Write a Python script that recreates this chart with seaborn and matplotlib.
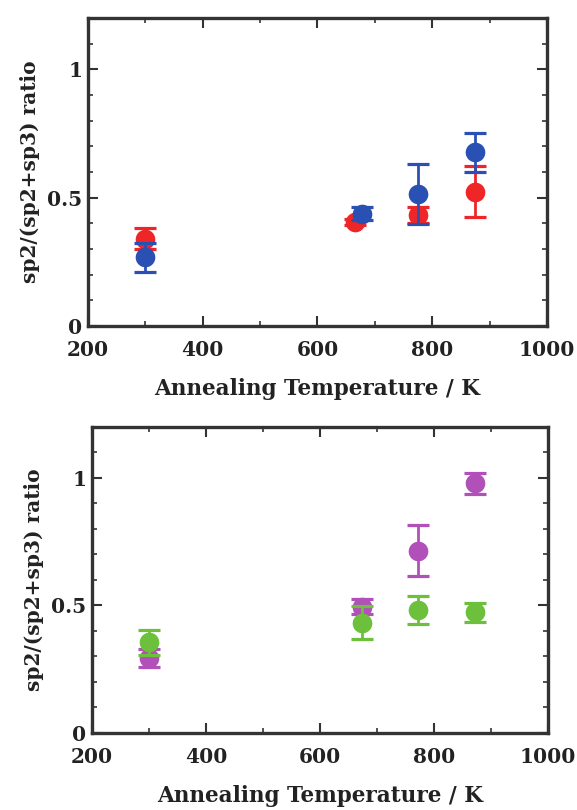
import matplotlib
matplotlib.use("Agg")
import matplotlib.pyplot as plt
import seaborn as sns
from matplotlib.ticker import MultipleLocator, FixedLocator, FixedFormatter

sns.set_theme(style="ticks")
plt.rcParams['font.family'] = ['DejaVu Serif']
plt.rcParams['font.weight'] = 'bold'

# Upper panel: two sample series
temp_red = [300, 665, 775, 875]
ratio_red = [0.34, 0.406, 0.432, 0.523]
err_red = [0.04, 0.012, 0.03, 0.10]

temp_blue = [300, 678, 775, 875]
ratio_blue = [0.267, 0.438, 0.516, 0.676]
err_blue = [0.058, 0.025, 0.117, 0.077]

# Lower panel: two sample series
temp_purple = [300, 674, 773, 873]
ratio_purple = [0.295, 0.495, 0.714, 0.979]
err_purple = [0.035, 0.03, 0.10, 0.04]

temp_green = [300, 674, 773, 873]
ratio_green = [0.355, 0.432, 0.482, 0.473]
err_green = [0.05, 0.065, 0.056, 0.037]

y_ticks = [0, 0.5, 1]
y_tick_labels = ["0", "0.5", "1"]
x_label = "Annealing Temperature / K"
y_label = "sp2/(sp2+sp3) ratio"

C_RED = "#ee2628"
C_BLUE = "#2a50b4"
C_PURPLE = "#b050b8"
C_GREEN = "#6cc03c"
FRAME = "#333333"

fig = plt.figure(figsize=(5.77, 8.10), dpi=100)
ax1 = fig.add_axes([0.1525, 0.5975, 0.7955, 0.3803])
ax2 = fig.add_axes([0.1594, 0.0951, 0.790, 0.3778])


def draw_series(ax, x, y, err, color, z):
    ax.errorbar(x, y, yerr=err, fmt="none", ecolor=color, elinewidth=2.0,
                capsize=8, capthick=2.3, zorder=z)
    sns.scatterplot(x=x, y=y, ax=ax, color=color, s=200, linewidth=0,
                    zorder=z + 0.5, legend=False)


def style_axes(ax):
    ax.set_xlim(200, 1000)
    ax.set_ylim(0, 1.2)
    ax.xaxis.set_major_locator(MultipleLocator(200))
    ax.xaxis.set_minor_locator(MultipleLocator(100))
    ax.yaxis.set_major_locator(FixedLocator(y_ticks))
    ax.yaxis.set_major_formatter(FixedFormatter(y_tick_labels))
    ax.yaxis.set_minor_locator(MultipleLocator(0.1))
    ax.tick_params(which="both", direction="in", top=True, right=True,
                   colors=FRAME, labelcolor="#222222")
    ax.tick_params(which="major", length=7, width=1.5, labelsize=14.5)
    ax.tick_params(axis="x", which="major", pad=10)
    ax.tick_params(axis="y", which="major", pad=4)
    ax.tick_params(which="minor", length=3.5, width=1.2)
    for sp in ax.spines.values():
        sp.set_linewidth(2.4)
        sp.set_color(FRAME)
    ax.set_xlabel(x_label, fontsize=15.5, fontweight="bold", color="#222222", labelpad=13)
    ax.set_ylabel(y_label, fontsize=14.5, fontweight="bold", color="#222222", labelpad=5)


draw_series(ax1, temp_red, ratio_red, err_red, C_RED, 2)
draw_series(ax1, temp_blue, ratio_blue, err_blue, C_BLUE, 3)
draw_series(ax2, temp_purple, ratio_purple, err_purple, C_PURPLE, 2)
draw_series(ax2, temp_green, ratio_green, err_green, C_GREEN, 3)

style_axes(ax1)
style_axes(ax2)

fig.savefig("out.png", dpi=100)
